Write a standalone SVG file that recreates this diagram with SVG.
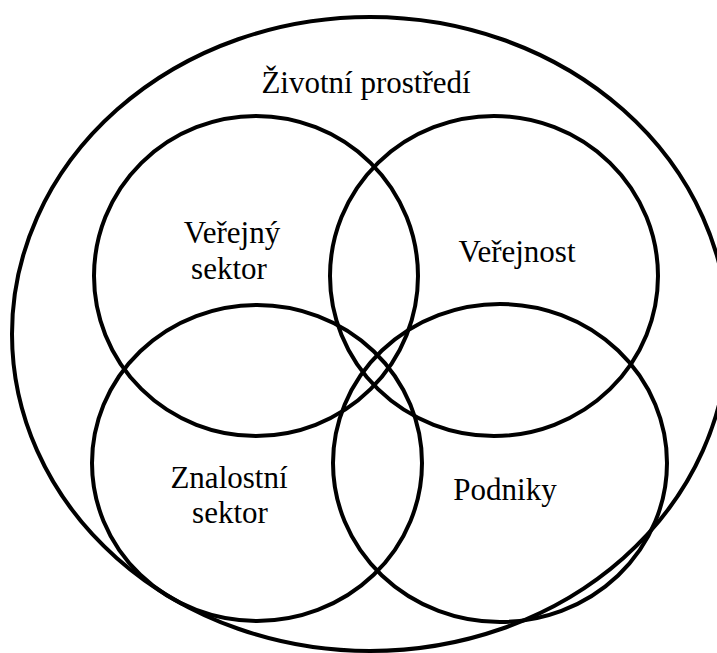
<svg xmlns="http://www.w3.org/2000/svg" width="717" height="653" viewBox="0 0 717 653">
<style>
.ring{fill:none;stroke:#000;stroke-width:4}
.lbl{font-family:"Liberation Serif","Times New Roman",serif;font-size:31px;fill:#000;text-anchor:middle}
</style>
<rect width="717" height="653" fill="#fff"/>
<g id="zivotni-prostredi">
<ellipse class="ring" cx="370" cy="334" rx="358" ry="317"/>
<text class="lbl" x="366" y="93">Životní prostředí</text>
</g>
<g id="verejny-sektor">
<ellipse class="ring" cx="256" cy="276" rx="162" ry="160"/>
<text class="lbl" x="232" y="243">Veřejný</text>
<text class="lbl" x="229" y="279">sektor</text>
</g>
<g id="verejnost">
<ellipse class="ring" cx="494" cy="276" rx="164" ry="160"/>
<text class="lbl" x="517" y="262">Veřejnost</text>
</g>
<g id="znalostni-sektor">
<ellipse class="ring" cx="257" cy="463" rx="165" ry="158"/>
<text class="lbl" x="229" y="488">Znalostní</text>
<text class="lbl" x="230" y="523">sektor</text>
</g>
<g id="podniky">
<ellipse class="ring" cx="500" cy="463" rx="167" ry="159"/>
<text class="lbl" x="505" y="500">Podniky</text>
</g>
<g id="connectors"></g>
</svg>
